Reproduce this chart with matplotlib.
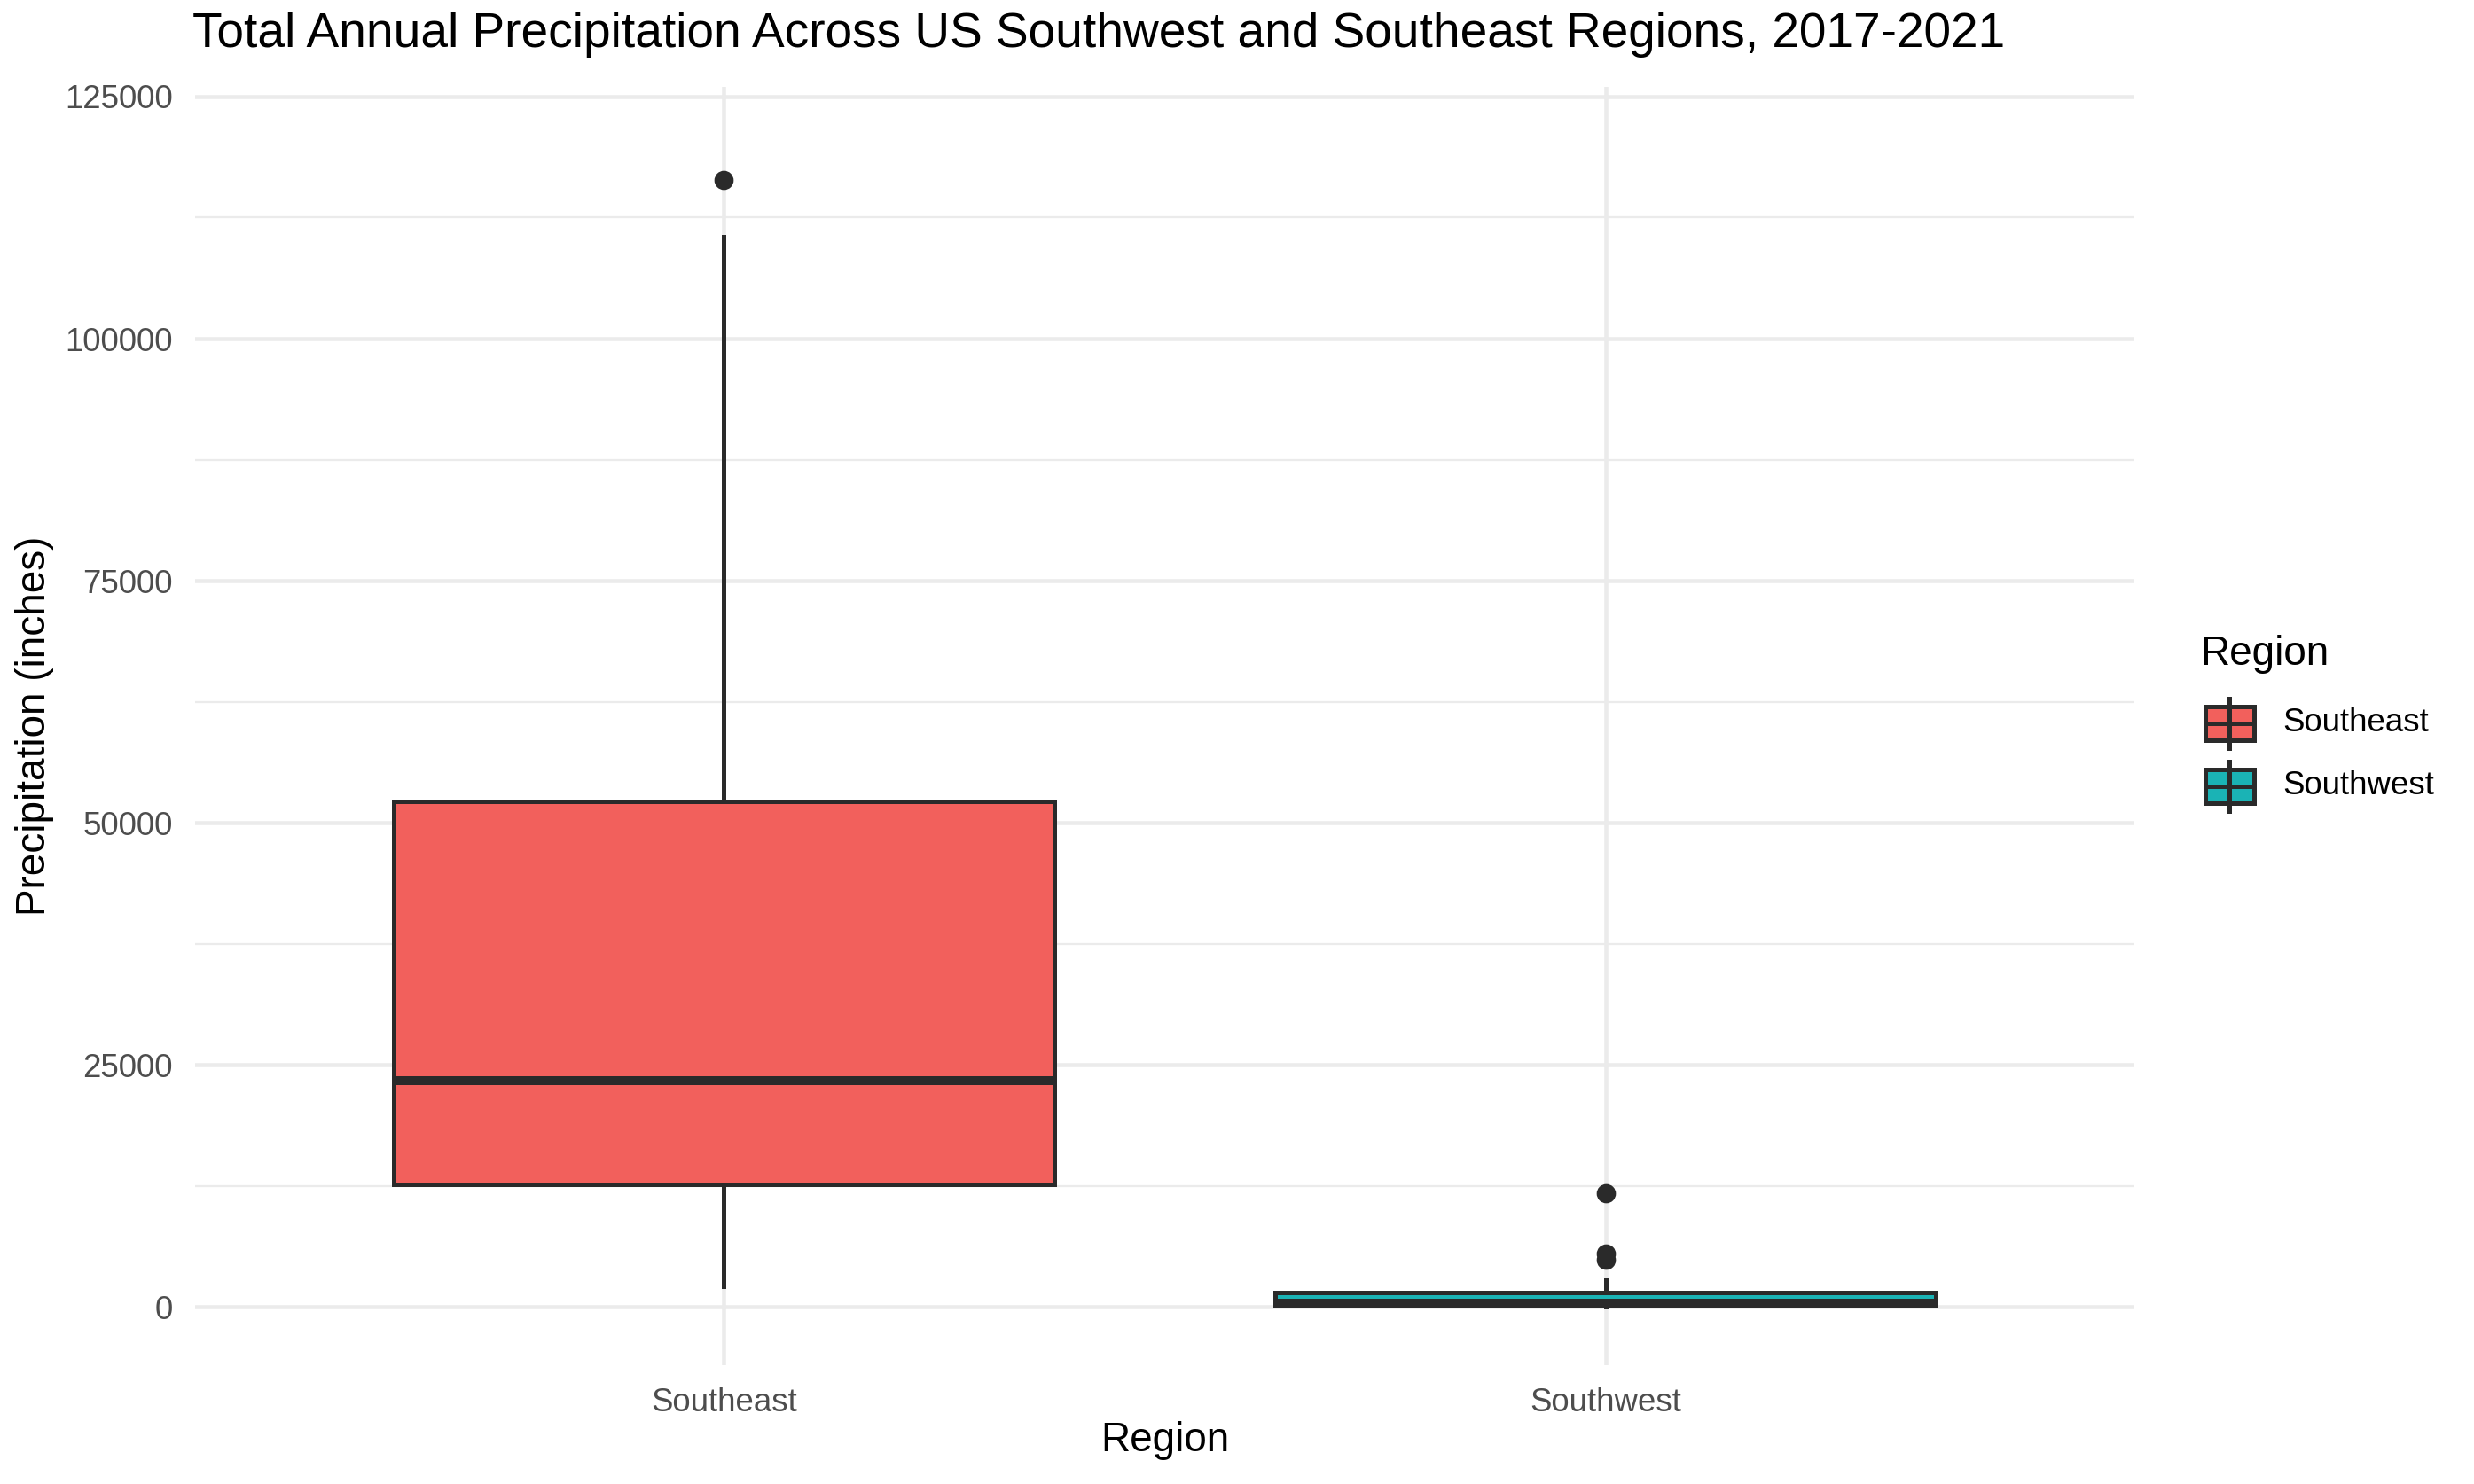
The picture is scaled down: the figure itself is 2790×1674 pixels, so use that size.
import matplotlib
matplotlib.use("Agg")
import matplotlib.pyplot as plt
from matplotlib.patches import Rectangle
from matplotlib.lines import Line2D

plt.rcParams['font.family'] = ['Liberation Sans', 'DejaVu Sans']

#*************************************************
# values
#*************************************************
regions = ["Southeast", "Southwest"]
fills = ["#F2605C", "#1AB3B5"]
q1 = [12680, 150]
med = [23400, 450]
q3 = [52180, 1530]
whislo = [2110, 0]
whishi = [110530, 2830]
fliers = [[116380], [4900, 5500, 11800]]
yticks = [0, 25000, 50000, 75000, 100000, 125000]
yminor = [12500, 37500, 62500, 87500, 112500]

EDGE = "#2a2a2a"
GRID = "#EBEBEB"
W, H = 2790, 1674   # output size, px

def fx(px):
    return px / W

def fy(py):
    return 1 - py / H

fig = plt.figure(figsize=(9.3, 5.58), dpi=300)
fig.patch.set_facecolor("white")

left, right, top, bottom = 220, 2407, 98, 1540
ax = fig.add_axes([fx(left), fy(bottom), fx(right - left), (bottom - top) / H])

stats = []
for i, r in enumerate(regions):
    stats.append(dict(label=r, q1=q1[i], med=med[i], q3=q3[i],
                      whislo=whislo[i], whishi=whishi[i], fliers=fliers[i]))

bp = ax.bxp(stats, positions=[1, 2], widths=0.75, patch_artist=True,
            showcaps=False,
            boxprops=dict(linewidth=1.2, edgecolor=EDGE),
            medianprops=dict(color=EDGE, linewidth=2.4, solid_capstyle="butt"),
            whiskerprops=dict(color=EDGE, linewidth=1.2),
            flierprops=dict(marker="o", markerfacecolor=EDGE,
                            markeredgecolor=EDGE, markersize=4.2))
for patch, c in zip(bp["boxes"], fills):
    patch.set_facecolor(c)

ax.set_xlim(0.4, 2.6)
ax.set_ylim(-6000, 126000)
ax.set_yticks(yticks)
ax.set_yticklabels([str(v) for v in yticks])
ax.set_yticks(yminor, minor=True)
ax.set_xticks([1, 2])
ax.set_xticklabels(regions)
ax.set_axisbelow(True)
ax.grid(which="major", color=GRID, linewidth=1.1)
ax.grid(which="minor", axis="y", color=GRID, linewidth=0.55)
for s in ax.spines.values():
    s.set_visible(False)
ax.tick_params(which="both", length=0)
ax.tick_params(axis="both", labelsize=8.8, labelcolor="#4D4D4D", pad=6)

fig.text(fx(217), fy(39), "Total Annual Precipitation Across US Southwest and Southeast Regions, 2017-2021",
         ha="left", va="center", fontsize=13.2, color="black")
fig.text(fx(1314), fy(1625), "Region", ha="center", va="center", fontsize=11)
fig.text(fx(39), fy(819), "Precipitation (inches)", ha="center", va="center",
         rotation=90, fontsize=11)

#*************************************************
# legend drawn by hand with boxplot glyphs
#*************************************************
fig.text(fx(2481), fy(738), "Region", ha="left", va="center", fontsize=11)
key_y = [816, 887]
for c, lab, ky in zip(fills, regions, key_y):
    fig.add_artist(Line2D([fx(2514), fx(2514)], [fy(ky - 28), fy(ky + 28)],
                          color=EDGE, linewidth=1.2))
    fig.add_artist(Rectangle((fx(2487), fy(ky + 19)), fx(55), 38 / H,
                             facecolor=c, edgecolor=EDGE, linewidth=1.2))
    fig.add_artist(Line2D([fx(2487), fx(2542)], [fy(ky), fy(ky)],
                          color=EDGE, linewidth=1.2))
    fig.text(fx(2574), fy(ky), lab, ha="left", va="center", fontsize=8.8)

fig.savefig("out.png", dpi=300)
